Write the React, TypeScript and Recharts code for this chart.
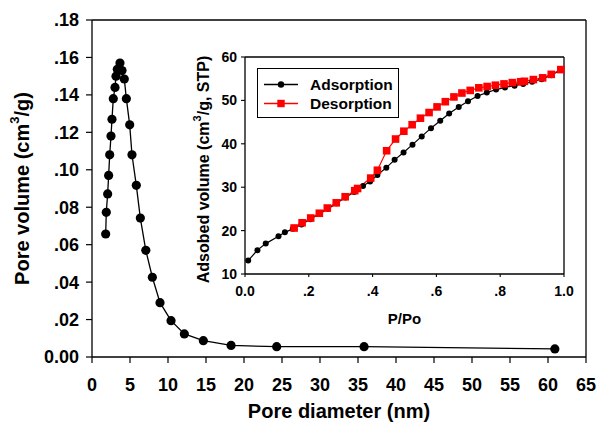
import React from 'react';
import { LineChart, Line, XAxis, YAxis, ReferenceLine, Legend, Label } from 'recharts';

const FONT = '"Liberation Sans", Arial, sans-serif';

// Main chart: pore size distribution
const poreDiameter = [1.8, 1.88, 2.06, 2.19, 2.33, 2.5, 2.63, 2.8, 3.03, 3.16, 3.33, 3.68, 3.95, 4.25, 4.52, 4.96, 5.26, 5.83, 6.36, 7.08, 7.94, 8.95, 10.4, 12.15, 14.65, 18.3, 24.3, 35.8, 60.9];
const poreVolume = [0.0657, 0.0773, 0.0871, 0.097, 0.108, 0.118, 0.127, 0.138, 0.144, 0.15, 0.1537, 0.157, 0.153, 0.1485, 0.138, 0.124, 0.108, 0.0917, 0.0742, 0.057, 0.0426, 0.029, 0.0194, 0.0123, 0.0087, 0.0062, 0.0055, 0.0055, 0.0043];
const mainXTicks = [0, 5, 10, 15, 20, 25, 30, 35, 40, 45, 50, 55, 60, 65];
const mainYTicks = [0, 0.02, 0.04, 0.06, 0.08, 0.1, 0.12, 0.14, 0.16, 0.18];
const mainYTickLabels = ['0.00', '.02', '.04', '.06', '.08', '.10', '.12', '.14', '.16', '.18'];

// Inset: isotherm
const adsP = [0.01, 0.039, 0.065, 0.105, 0.125, 0.15, 0.177, 0.205, 0.232, 0.26, 0.287, 0.315, 0.342, 0.37, 0.392, 0.415, 0.443, 0.469, 0.497, 0.525, 0.554, 0.583, 0.612, 0.64, 0.67, 0.699, 0.729, 0.758, 0.787, 0.815, 0.845, 0.872, 0.9, 0.93, 0.96, 0.99];
const adsV = [13.1, 15.5, 17.0, 18.7, 19.6, 20.4, 21.4, 22.6, 23.8, 25.0, 26.3, 27.6, 28.9, 30.3, 31.3, 32.8, 34.5, 36.3, 38.0, 39.8, 41.7, 43.6, 45.3, 47.0, 48.5, 49.8, 51.0, 51.8, 52.5, 53.0, 53.4, 53.8, 54.3, 54.9, 55.8, 57.0];
const desP = [0.154, 0.179, 0.206, 0.233, 0.258, 0.286, 0.314, 0.344, 0.353, 0.394, 0.415, 0.444, 0.472, 0.498, 0.524, 0.55, 0.577, 0.602, 0.628, 0.655, 0.68, 0.706, 0.733, 0.759, 0.785, 0.812, 0.838, 0.864, 0.876, 0.904, 0.933, 0.96, 0.99];
const desV = [20.6, 21.8, 22.9, 24.0, 25.2, 26.4, 27.8, 29.2, 29.7, 32.1, 33.9, 38.4, 41.1, 42.9, 44.4, 45.9, 47.2, 48.5, 49.7, 50.8, 51.7, 52.3, 52.9, 53.2, 53.5, 53.8, 54.1, 54.3, 54.4, 54.8, 55.2, 56.0, 57.1];
const insetXTicks = [0, 0.2, 0.4, 0.6, 0.8, 1.0];
const insetXTickLabels = ['0.0', '.2', '.4', '.6', '.8', '1.0'];
const insetYTicks = [10, 20, 30, 40, 50, 60];
const seriesNames = ['Adsorption', 'Desorption'];

const mainData = poreDiameter.map((d, i) => ({ d, v: poreVolume[i] }));
const adsData = adsP.map((p, i) => ({ p, v: adsV[i] }));
const desData = desP.map((p, i) => ({ p, v: desV[i] }));

const mainTick = { fontSize: 18, fontWeight: 'bold', fill: '#000', fontFamily: FONT };
const insetTick = { fontSize: 14, fontWeight: 'bold', fill: '#000', fontFamily: FONT };

const MainYLabel = (props: any) => {
  const vb = props.viewBox;
  const cx = 22;
  const cy = vb.y + vb.height / 2;
  return (
    <text x={cx} y={cy} transform={`rotate(-90 ${cx} ${cy})`} textAnchor="middle" dominantBaseline="central"
      style={{ fontSize: 20, fontWeight: 'bold', fontFamily: FONT, fill: '#000' }}>
      <tspan>Pore volume (cm</tspan>
      <tspan baselineShift="super" fontSize={13}>3</tspan>
      <tspan>/g)</tspan>
    </text>
  );
};

const MainXLabel = (props: any) => {
  const vb = props.viewBox;
  const cx = vb.x + vb.width / 2;
  return (
    <text x={cx} y={418} textAnchor="middle"
      style={{ fontSize: 20, fontWeight: 'bold', fontFamily: FONT, fill: '#000' }}>
      Pore diameter (nm)
    </text>
  );
};

const InsetYLabel = (props: any) => {
  const vb = props.viewBox;
  const cx = 23;
  const cy = vb.y + vb.height / 2 + 4;
  return (
    <text x={cx} y={cy} transform={`rotate(-90 ${cx} ${cy})`} textAnchor="middle" dominantBaseline="central"
      style={{ fontSize: 16, fontWeight: 'bold', fontFamily: FONT, fill: '#000' }}>
      <tspan>Adsobed volume (cm</tspan>
      <tspan baselineShift="super" fontSize={11}>3</tspan>
      <tspan>/g, STP)</tspan>
    </text>
  );
};

const InsetXLabel = (props: any) => {
  const vb = props.viewBox;
  const cx = vb.x + vb.width / 2;
  return (
    <text x={cx} y={284} textAnchor="middle"
      style={{ fontSize: 15, fontWeight: 'bold', fontFamily: FONT, fill: '#000' }}>
      P/Po
    </text>
  );
};

const SquareDot = (props: any) => {
  const { cx, cy, index } = props;
  return <rect key={`sq-${index}`} x={cx - 3.8} y={cy - 3.8} width={7.6} height={7.6} fill="#ff0000" />;
};

const LegendBox = () => (
  <div style={{ border: '1.5px solid #000', background: '#fff', width: 140, height: 48, boxSizing: 'content-box', fontFamily: FONT, fontWeight: 'bold', fontSize: 15.5, color: '#000' }}>
    {seriesNames.map((name, i) => (
      <div key={name} style={{ display: 'flex', alignItems: 'center', height: 19, marginTop: i === 0 ? 6 : 0 }}>
        <svg width={52} height={19} style={{ display: 'block' }}>
          <line x1={6} x2={40} y1={9.5} y2={9.5} stroke={i === 0 ? '#000' : '#ff0000'} strokeWidth={1.3} />
          {i === 0 ? <circle cx={23} cy={9.5} r={3.2} fill="#000" /> : <rect x={19.3} y={5.8} width={7.4} height={7.4} fill="#ff0000" />}
        </svg>
        <span style={{ lineHeight: '19px' }}>{name}</span>
      </div>
    ))}
  </div>
);

export default function App() {
  return (
    <div style={{ position: 'absolute', left: 0, top: 0, width: 598, height: 429, background: '#fff' }}>
      <LineChart width={598} height={429} data={mainData} margin={{ top: 20, right: 12, bottom: 0, left: 0 }}>
        <XAxis dataKey="d" type="number" domain={[0, 65]} ticks={mainXTicks} interval={0}
          tick={mainTick} tickSize={6} tickMargin={15} height={72}
          axisLine={{ stroke: '#000', strokeWidth: 1.3 }} tickLine={{ stroke: '#000', strokeWidth: 1.2 }}>
          <Label content={MainXLabel} />
        </XAxis>
        <YAxis dataKey="v" type="number" domain={[0, 0.18]} ticks={mainYTicks} interval={0} width={92}
          tickFormatter={(v: number) => mainYTickLabels[mainYTicks.findIndex((t) => Math.abs(t - v) < 1e-9)]}
          tick={mainTick} tickSize={6} tickMargin={7}
          axisLine={{ stroke: '#000', strokeWidth: 1.3 }} tickLine={{ stroke: '#000', strokeWidth: 1.2 }}>
          <Label content={MainYLabel} />
        </YAxis>
        <ReferenceLine y={0.18} stroke="#000" strokeWidth={1.3} />
        <ReferenceLine x={65} stroke="#000" strokeWidth={1.3} />
        <Line dataKey="v" stroke="#000" strokeWidth={1.3} isAnimationActive={false}
          dot={{ r: 4.6, fill: '#000', stroke: '#000', strokeWidth: 0 }} activeDot={false} />
      </LineChart>

      <div style={{ position: 'absolute', left: 180, top: 40 }}>
        <LineChart width={400} height={300} margin={{ top: 17, right: 16, bottom: 0, left: 0 }}>
          <XAxis dataKey="p" type="number" domain={[0, 1]} ticks={insetXTicks} interval={0}
            tickFormatter={(v: number) => insetXTickLabels[insetXTicks.findIndex((t) => Math.abs(t - v) < 1e-9)]}
            tick={insetTick} tickSize={3} tickMargin={9} height={66} allowDuplicatedCategory={false}
            axisLine={{ stroke: '#000', strokeWidth: 1.3 }} tickLine={{ stroke: '#000', strokeWidth: 1.1 }}>
            <Label content={InsetXLabel} />
          </XAxis>
          <YAxis dataKey="v" type="number" domain={[10, 60]} ticks={insetYTicks} interval={0} width={65}
            tick={insetTick} tickSize={4} tickMargin={4}
            axisLine={{ stroke: '#000', strokeWidth: 1.3 }} tickLine={{ stroke: '#000', strokeWidth: 1.1 }}>
            <Label content={InsetYLabel} />
          </YAxis>
          <ReferenceLine y={60} stroke="#000" strokeWidth={1.3} />
          <ReferenceLine x={1} stroke="#000" strokeWidth={1.3} />
          <Legend layout="vertical" verticalAlign="middle" align="center" content={LegendBox}
            wrapperStyle={{ position: 'absolute', left: 77, top: 28, width: 'auto', height: 'auto' }} />
          <Line data={adsData} dataKey="v" name={seriesNames[0]} stroke="#000" strokeWidth={1.2} isAnimationActive={false}
            dot={{ r: 3, fill: '#000', stroke: '#000', strokeWidth: 0 }} activeDot={false} />
          <Line data={desData} dataKey="v" name={seriesNames[1]} stroke="#ff0000" strokeWidth={1.2} isAnimationActive={false}
            dot={SquareDot} activeDot={false} />
        </LineChart>
      </div>
    </div>
  );
}
